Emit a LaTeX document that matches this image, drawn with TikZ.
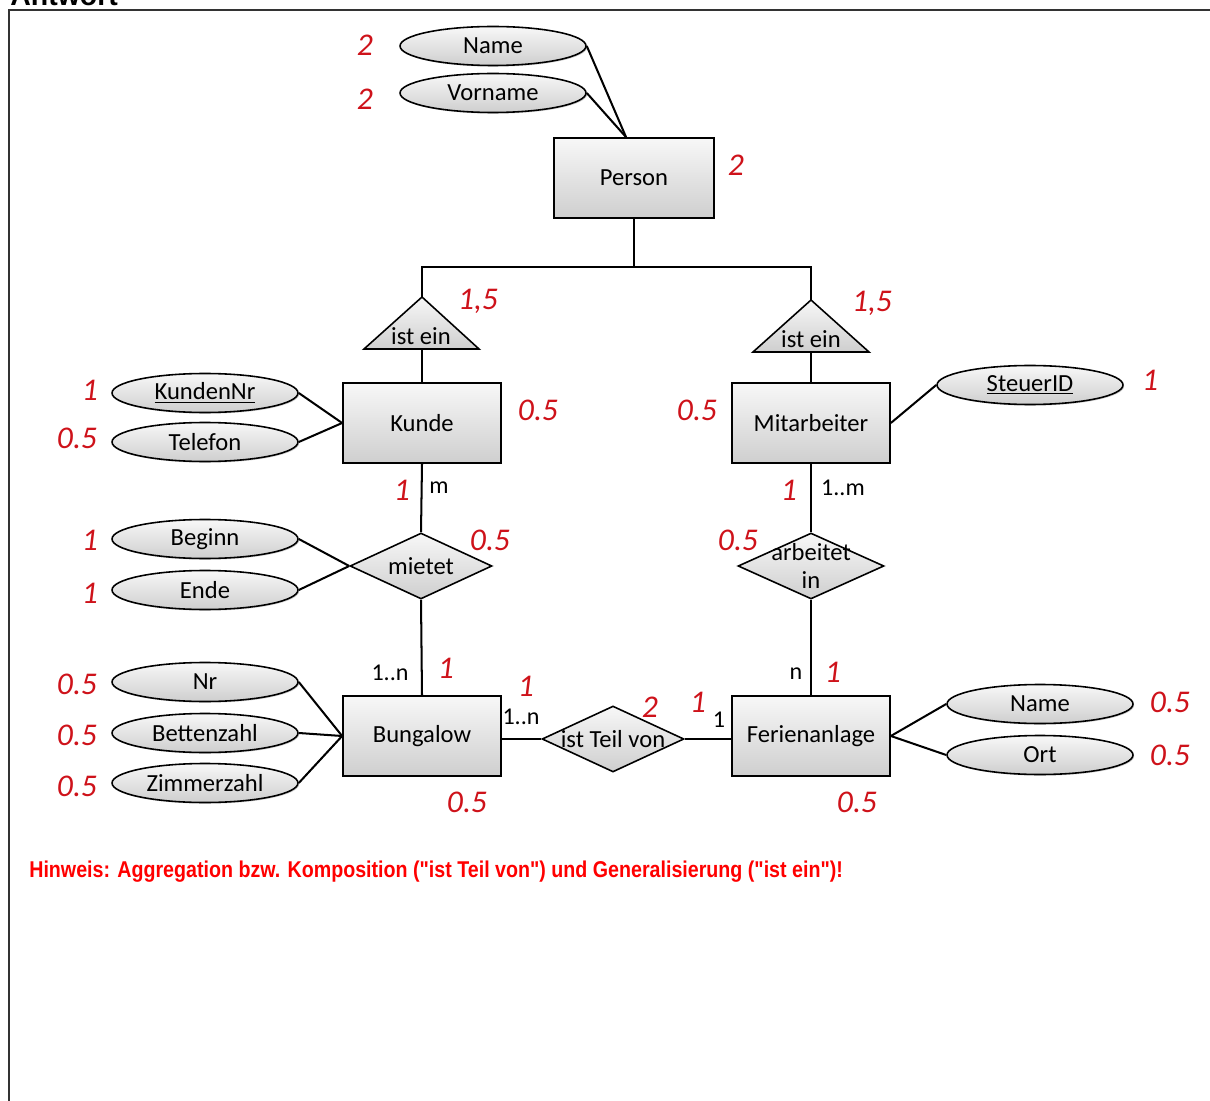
\documentclass[tikz,border=0pt]{standalone}
\usepackage{fontspec}
\setmainfont{Carlito}
\newfontfamily\hintfont[FakeStretch=0.86]{Liberation Sans}
\newfontfamily\headfont{Liberation Sans}
\usetikzlibrary{shapes.geometric,positioning,calc,shadows}
\definecolor{ptred}{RGB}{206,18,26}
\definecolor{hintred}{RGB}{255,0,0}
\tikzset{
  boxfill/.style={top color=gray!6, bottom color=gray!38},
  shade/.style={drop shadow={shadow xshift=0.7pt, shadow yshift=-0.7pt, opacity=0.35}},
  entity/.style={draw, line width=1pt, boxfill, shade, minimum width=3.16cm,
    minimum height=1.6cm, inner sep=0pt, font=\fontsize{14}{16}\selectfont},
  attr/.style={ellipse, draw, line width=0.9pt, boxfill, shade, minimum width=3.72cm,
    minimum height=0.78cm, inner sep=0pt, font=\fontsize{14}{16}\selectfont},
  rel/.style={diamond, draw, line width=0.9pt, boxfill, minimum width=2.84cm,
    minimum height=1.32cm, inner sep=0pt},
  reltext/.style={inner sep=0pt, align=center, font=\fontsize{14}{15.5}\selectfont},
  isa/.style={draw, line width=0.9pt, boxfill, line join=miter},
  card/.style={inner sep=0pt, font=\fontsize{13.7}{16}\selectfont},
  pts/.style={inner sep=0pt, text=ptred, font=\fontsize{18}{20}\selectfont\itshape},
  conn/.style={line width=1.15pt},
}

\begin{document}
\begin{tikzpicture}[x=0.02cm, y=-0.02cm]
    \useasboundingbox (0,0) rectangle (1210,1101);
    \clip (0,0) rectangle (1210,1101);

    % Frame and heading
    \node[anchor=base west, inner sep=0pt, font=\headfont\bfseries\fontsize{16.2}{18}\selectfont] (head) at (10,6) {Antwort};
    \draw[line width=0.9pt, gray!40!black] (9,1110) -- (9,10) -- (1220,10);

    % Person
    \node[entity, minimum width=3.2cm] (Person) at (634,178) {Person};
    \node[attr] (Name) at (493,46) {Name};
    \node[attr] (Vorname) at (493,93) {Vorname};
    \draw[conn] (Name.east) -- (Person.101);
    \draw[conn] (Vorname.east) -- (Person.101);
    \node[pts] (pName) at (365,45) {2};
    \node[pts] (pVorname) at (365,99) {2};
    \node[pts] (pPerson) at (736,165) {2};

    % Generalisation
    \coordinate (fork) at (634,267);
    \coordinate (isaK) at (422,297);
    \coordinate (isaM) at (811,300);
    \draw[isa] (isaK) -- +(57,52) -- +(-58,52) -- cycle;
    \draw[isa] (isaM) -- +(58,52) -- +(-58,52) -- cycle;
    \coordinate (isaKb) at (422,349);
    \coordinate (isaMb) at (811,352);
    \node[reltext] (isaKt) at (421,336) {ist ein};
    \node[reltext] (isaMt) at (811,339) {ist ein};
    \draw[conn] (Person.south) -- (fork);
    \draw[conn] (isaK) |- (fork) -| (isaM);
    \node[pts] (pIsaK) at (478,301) {1,5};
    \node[pts] (pIsaM) at (872,303) {1,5};

    % Kunde
    \node[entity] (Kunde) at (422,423) {Kunde};
    \draw[conn] (isaKb) -- (Kunde.north);
    \node[attr] (KundenNr) at (205,393) {\underline{KundenNr}};
    \node[attr] (Telefon) at (205,442) {Telefon};
    \draw[conn] (KundenNr.east) -- (Kunde.west);
    \draw[conn] (Telefon.east) -- (Kunde.west);
    \node[pts] (pKundenNr) at (90,390) {1};
    \node[pts] (pTelefon) at (77,438) {0.5};
    \node[pts] (pKunde) at (538,410) {0.5};

    % Mitarbeiter
    \node[entity] (Mitarbeiter) at (811,423) {Mitarbeiter};
    \draw[conn] (isaMb) -- (Mitarbeiter.north);
    \node[attr] (SteuerID) at (1030,385) {\underline{SteuerID}};
    \draw[conn] (SteuerID.west) -- (Mitarbeiter.east);
    \node[pts] (pSteuerID) at (1150,380) {1};
    \node[pts] (pMitarbeiter) at (697,410) {0.5};

    % mietet
    \node[rel] (mietet) at (421,566) {};
    \node[reltext] (mietetT) at (421,566) {mietet};
    \node[attr] (Beginn) at (205,539) {Beginn};
    \node[attr] (Ende) at (205,590) {Ende};
    \draw[conn] (Beginn.east) -- (mietet.west);
    \draw[conn] (Ende.east) -- (mietet.west);
    \draw[conn] (Kunde.south) -- (mietet.north);
    \node[pts] (pBeginn) at (90,540) {1};
    \node[pts] (pEnde) at (90,593) {1};
    \node[pts] (pMietet) at (490,540) {0.5};
    \node[pts] (pKm) at (402,490) {1};
    \node[card] (cKm) at (439,488) {m};

    % arbeitet in
    \node[rel, minimum width=2.92cm] (arbeitet) at (811,566) {};
    \node[reltext] (arbeitetT) at (811,566) {arbeitet\\in};
    \draw[conn] (Mitarbeiter.south) -- (arbeitet.north);
    \node[pts] (pArbeitet) at (738,540) {0.5};
    \node[pts] (pMa) at (789,490) {1};
    \node[card] (cMa) at (843,488) {1..m};

    % Bungalow
    \node[entity] (Bungalow) at (422,736) {Bungalow};
    \draw[conn] (mietet.south) -- (Bungalow.north);
    \node[attr] (Nr) at (205,682) {Nr};
    \node[attr] (Bettenzahl) at (205,733) {Bettenzahl};
    \node[attr] (Zimmerzahl) at (205,783) {Zimmerzahl};
    \draw[conn] (Nr.east) -- (Bungalow.west);
    \draw[conn] (Bettenzahl.east) -- (Bungalow.west);
    \draw[conn] (Zimmerzahl.east) -- (Bungalow.west);
    \node[pts] (pNr) at (77,684) {0.5};
    \node[pts] (pBetten) at (77,735) {0.5};
    \node[pts] (pZimmer) at (77,786) {0.5};
    \node[pts] (pBungalow) at (467,802) {0.5};
    \node[card] (cBm) at (390,673) {1..n};
    \node[pts] (pBm) at (446,668) {1};

    % Ferienanlage
    \node[entity] (Ferien) at (811,736) {Ferienanlage};
    \draw[conn] (arbeitet.south) -- (Ferien.north);
    \node[attr] (FName) at (1040,704) {Name};
    \node[attr] (Ort) at (1040,755) {Ort};
    \draw[conn] (Ferien.east) -- (FName.west);
    \draw[conn] (Ferien.east) -- (Ort.west);
    \node[pts] (pFName) at (1170,702) {0.5};
    \node[pts] (pOrt) at (1170,755) {0.5};
    \node[pts] (pFerien) at (857,802) {0.5};
    \node[card] (cFa) at (796,674) {n};
    \node[pts] (pFa) at (833,672) {1};

    % ist Teil von
    \node[rel] (teil) at (613,739) {};
    \node[reltext] (teilT) at (613,739) {ist Teil von};
    \draw[conn] (teil.west) -- (teil.west -| Bungalow.east);
    \draw[conn] (teil.east) -- (teil.east -| Ferien.west);
    \node[pts] (pTB) at (526,686) {1};
    \node[card] (cTB) at (521,717) {1..n};
    \node[pts] (pTeil) at (650,707) {2};
    \node[pts] (pTF) at (698,702) {1};
    \node[card] (cTF) at (719,720) {1};

    % Hint
    \node[anchor=west, inner sep=0pt, text=hintred, font=\hintfont\bfseries\fontsize{13}{15}\selectfont] (hint) at (29,872)
      {Hinweis: Aggregation bzw. Komposition ("ist Teil von") und Generalisierung ("ist ein")!};
\end{tikzpicture}
\end{document}
